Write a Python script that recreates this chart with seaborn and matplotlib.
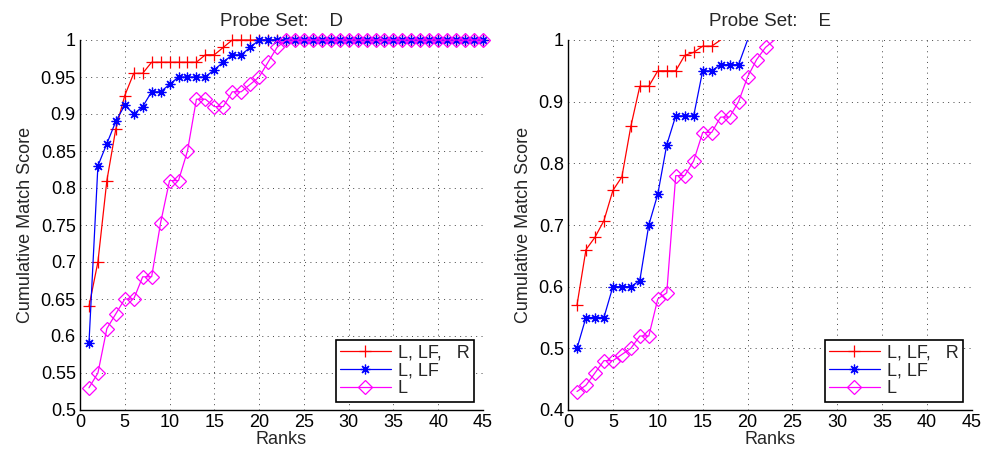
import matplotlib
matplotlib.use("Agg")
import matplotlib.pyplot as plt
import seaborn as sns
import numpy as np

# ---------------- data ----------------
red_D = [0.64, 0.70, 0.81, 0.88, 0.925, 0.955, 0.955, 0.97, 0.97, 0.97,
         0.97, 0.97, 0.97, 0.98, 0.98, 0.99, 1.0, 1.0, 1.0, 1.0,
         1.0, 1.0, 1.0, 1.0, 1.0, 1.0, 1.0, 1.0, 1.0, 1.0,
         1.0, 1.0, 1.0, 1.0, 1.0, 1.0, 1.0, 1.0, 1.0, 1.0,
         1.0, 1.0, 1.0, 1.0, 1.0]
blue_D = [0.59, 0.83, 0.86, 0.89, 0.912, 0.90, 0.91, 0.93, 0.93, 0.94,
          0.95, 0.95, 0.95, 0.95, 0.96, 0.97, 0.98, 0.98, 0.99, 1.0,
          1.0, 1.0, 1.0, 1.0, 1.0, 1.0, 1.0, 1.0, 1.0, 1.0,
          1.0, 1.0, 1.0, 1.0, 1.0, 1.0, 1.0, 1.0, 1.0, 1.0,
          1.0, 1.0, 1.0, 1.0, 1.0]
mag_D = [0.53, 0.55, 0.61, 0.63, 0.65, 0.65, 0.68, 0.68, 0.753, 0.81,
         0.81, 0.85, 0.92, 0.92, 0.91, 0.91, 0.93, 0.93, 0.94, 0.95,
         0.97, 0.99, 1.0, 1.0, 1.0, 1.0, 1.0, 1.0, 1.0, 1.0,
         1.0, 1.0, 1.0, 1.0, 1.0, 1.0, 1.0, 1.0, 1.0, 1.0,
         1.0, 1.0, 1.0, 1.0, 1.0]

red_E = [0.57, 0.66, 0.68, 0.707, 0.756, 0.778, 0.86, 0.925, 0.925, 0.95,
         0.95, 0.95, 0.975, 0.98, 0.99, 0.99, 1.0]
blue_E = [0.50, 0.55, 0.55, 0.55, 0.60, 0.60, 0.60, 0.61, 0.70, 0.75,
          0.83, 0.877, 0.877, 0.877, 0.95, 0.95, 0.96, 0.96, 0.96, 1.0]
mag_E = [0.43, 0.44, 0.46, 0.48, 0.48, 0.49, 0.50, 0.52, 0.52, 0.58,
         0.59, 0.78, 0.78, 0.804, 0.85, 0.85, 0.875, 0.875, 0.90, 0.94,
         0.968, 0.988, 1.0]

labels = ["L, LF,   R", "L, LF", "L"]
titles = ["Probe Set:    D", "Probe Set:    E"]
xticks = [0, 5, 10, 15, 20, 25, 30, 35, 40, 45]
yticks_D = [0.5, 0.55, 0.6, 0.65, 0.7, 0.75, 0.8, 0.85, 0.9, 0.95, 1.0]
yticks_E = [0.4, 0.5, 0.6, 0.7, 0.8, 0.9, 1.0]

# ---------------- style ----------------
sns.set_theme(style="white")
plt.rcParams["font.family"] = ["Liberation Sans", "DejaVu Sans"]
plt.rcParams["font.size"] = 13

fig = plt.figure(figsize=(9.93, 4.54), dpi=100)
W, H = 993, 454
axD = fig.add_axes([80 / W, (H - 410) / H, 403 / W, 370 / H])
axE = fig.add_axes([568 / W, (H - 410) / H, 404 / W, 370 / H])

colors = ["#ff0000", "#0000ff", "#ff00ff"]
asterisk = (8, 2, 0)
styles = [
    dict(marker="+", markersize=8, markeredgewidth=0.9),
    dict(marker=asterisk, markersize=7, markeredgewidth=0.9),
    dict(marker="D", markersize=7, markeredgewidth=0.9, fillstyle="none"),
]


def fmt(v):
    return "%g" % v


def draw(ax, series, yticks, title, clip, ylim):
    for vals, col, st, lab in zip(series, colors, styles, labels):
        x = list(range(1, len(vals) + 1))
        kw = dict(st)
        if clip:
            kw["markevery"] = [i for i, v in enumerate(vals) if v < 1.0]
        sns.lineplot(x=x, y=vals, ax=ax, color=col, linewidth=0.9,
                     markeredgecolor=col, label=lab, clip_on=clip, **kw)
    ax.set_xlim(0, 45)
    ax.set_ylim(*ylim)
    ax.set_xticks(xticks)
    ax.set_xticklabels([fmt(t) for t in xticks])
    ax.set_yticks(yticks)
    ax.set_yticklabels([fmt(t) for t in yticks])
    ax.tick_params(direction="in", length=4, width=0.8, labelsize=13,
                   colors="black", pad=3)
    ax.grid(True, linestyle=(0, (1, 4.5)), color="#444444", linewidth=0.7)
    for s in ["top", "right"]:
        ax.spines[s].set_visible(False)
    for s in ["left", "bottom"]:
        ax.spines[s].set_color("black")
        ax.spines[s].set_linewidth(1.0)
    ax.set_xlabel("Ranks", fontsize=13, labelpad=0)
    ax.set_ylabel("Cumulative Match Score", fontsize=13, labelpad=5)
    ax.set_title(title, fontsize=13.5, pad=10)
    leg = ax.legend(loc="lower right", bbox_to_anchor=(0.978, 0.022),
                    borderaxespad=0, frameon=True, fancybox=False,
                    fontsize=13, handlelength=2.8, labelspacing=0.05,
                    borderpad=0.25, handletextpad=0.4, numpoints=1)
    fr = leg.get_frame()
    fr.set_edgecolor("black")
    fr.set_linewidth(1.2)
    fr.set_alpha(1)


draw(axD, [red_D, blue_D, mag_D], yticks_D, titles[0], False, (0.5, 1.0))
draw(axE, [red_E, blue_E, mag_E], yticks_E, titles[1], True, (0.4, 1.0))

fig.savefig("out.png", dpi=100)
